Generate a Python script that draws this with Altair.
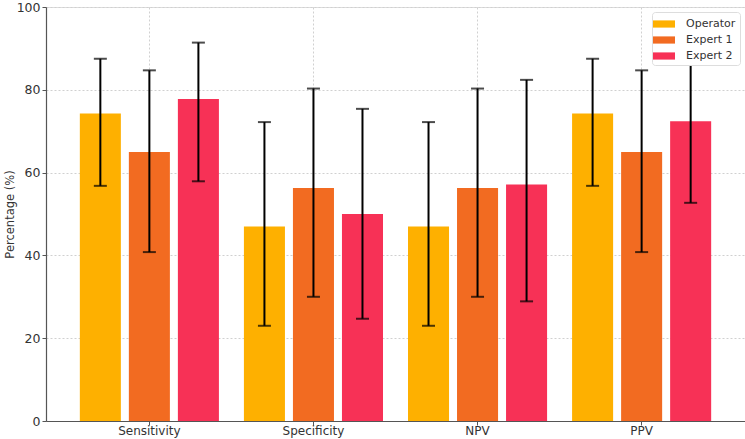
import altair as alt
import pandas as pd

metrics = ["Sensitivity", "Specificity", "NPV", "PPV"]
raters = ["Operator", "Expert 1", "Expert 2"]
values = {
    "Operator": [74.3, 47.0, 47.0, 74.3],
    "Expert 1": [65.0, 56.3, 56.3, 65.0],
    "Expert 2": [77.8, 50.0, 57.1, 72.4],
}
lower = {
    "Operator": [56.8, 23.0, 23.0, 56.8],
    "Expert 1": [40.8, 30.0, 30.0, 40.8],
    "Expert 2": [57.9, 24.7, 28.9, 52.7],
}
upper = {
    "Operator": [87.5, 72.2, 72.2, 87.5],
    "Expert 1": [84.7, 80.3, 80.3, 84.7],
    "Expert 2": [91.4, 75.4, 82.4, 87.3],
}
colors = ["#FEB000", "#F26B21", "#F73156"]

rows = []
for r in raters:
    for i, m in enumerate(metrics):
        rows.append({"metric": m, "rater": r, "value": values[r][i],
                     "lo": lower[r][i], "hi": upper[r][i]})
df = pd.DataFrame(rows)

FONT = "DejaVu Sans"

x_enc = alt.X("metric:N", sort=metrics, title=None,
              scale=alt.Scale(paddingInner=0, paddingOuter=0.13),
              axis=alt.Axis(labelAngle=0, labelFontSize=12, labelColor="#333333",
                            labelFont=FONT, tickSize=4, tickColor="#555555",
                            domainColor="#555555", domainWidth=1.2,
                            grid=True, gridDash=[2, 2], gridColor="#d0d0d0",
                            labelPadding=0))
xoff = alt.XOffset("rater:N", sort=raters,
                   scale=alt.Scale(paddingInner=0.163, paddingOuter=0.255))

base = alt.Chart(df)

bars = base.mark_bar().encode(
    x=x_enc,
    xOffset=xoff,
    y=alt.Y("value:Q", title="Percentage (%)",
            scale=alt.Scale(domain=[0, 100], nice=False),
            axis=alt.Axis(values=[0, 20, 40, 60, 80, 100], labelFontSize=12.5,
                          labelColor="#333333", labelFont=FONT, titleFont=FONT,
                          titleFontSize=11.5, titleFontWeight="normal", titleColor="#333333",
                          tickSize=4, tickColor="#555555", domainColor="#555555",
                          domainWidth=1.2, grid=True, gridDash=[2, 2],
                          gridColor="#d0d0d0", titlePadding=1, labelPadding=2)),
    color=alt.Color("rater:N", sort=raters,
                    scale=alt.Scale(domain=raters, range=colors),
                    legend=alt.Legend(title=None, orient="none", legendX=606, legendY=5,
                                      fillColor="white", strokeColor="#dddddd",
                                      cornerRadius=3, padding=4,
                                      symbolType="M-1.375,-0.45H1.375V0.45H-1.375Z",
                                      symbolSize=256, symbolStrokeWidth=0,
                                      labelFont=FONT, labelFontSize=11,
                                      labelColor="#333333", rowPadding=3,
                                      labelOffset=14, symbolOpacity=1)),
)

rules = base.mark_rule(color="black", strokeWidth=2).encode(
    x=alt.X("metric:N", sort=metrics),
    xOffset=xoff,
    y="lo:Q",
    y2="hi:Q",
)
tick_lo = base.mark_tick(color="black", thickness=2, size=13).encode(
    x=alt.X("metric:N", sort=metrics),
    xOffset=xoff,
    y="lo:Q",
)
tick_hi = base.mark_tick(color="black", thickness=2, size=13).encode(
    x=alt.X("metric:N", sort=metrics),
    xOffset=xoff,
    y="hi:Q",
)

chart = alt.layer(bars, rules, tick_lo, tick_hi).properties(
    width=699, height=414,
    autosize=alt.AutoSizeParams(type="none"),
    padding={"left": 46, "top": 7, "right": 0, "bottom": 18},
).configure_view(stroke=None).configure(font=FONT)

chart.save("out.html", embed_options={"renderer": "svg", "actions": False})
